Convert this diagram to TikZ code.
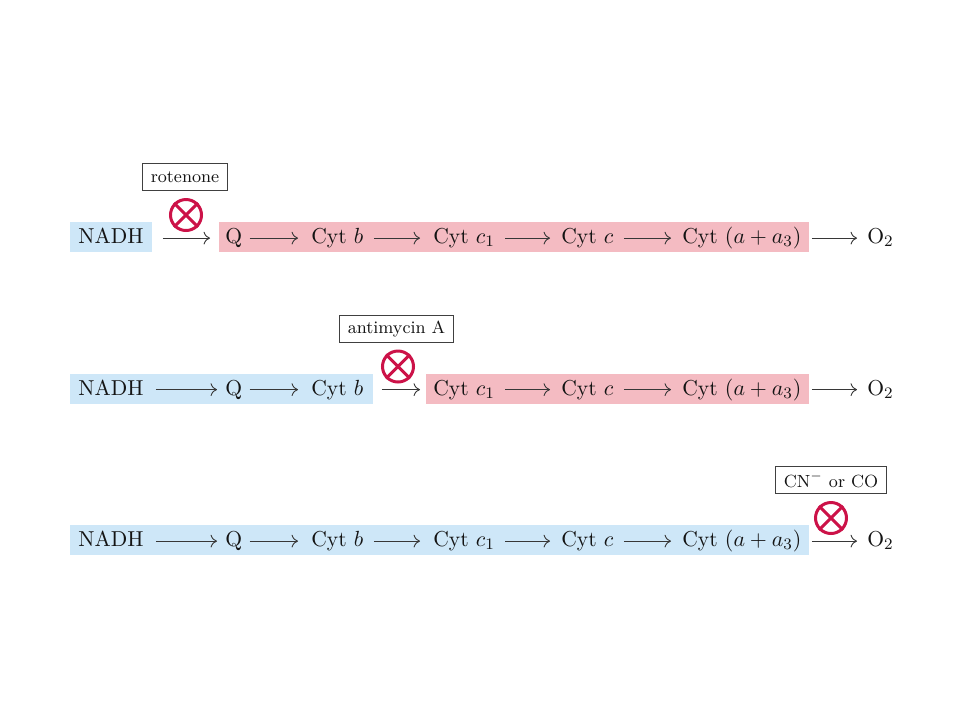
\documentclass[tikz,border=0pt]{standalone}
\usetikzlibrary{arrows.meta}
\definecolor{bluebg}{RGB}{206,231,248}
\definecolor{pinkbg}{RGB}{244,187,194}
\definecolor{blockred}{RGB}{204,18,72}
\definecolor{txt}{RGB}{20,20,20}
\pgfdeclarelayer{background}
\pgfsetlayers{background,main}
\begin{document}
\begin{tikzpicture}[x=0.5pt,y=-0.5pt,
  sp/.style={font=\fontsize{10.8}{13}\selectfont, text=txt, inner sep=0pt, anchor=base west, text height=5.4pt, text depth=0pt},
  arr/.style={-{To[length=3.2pt,width=6.4pt]}, line width=0.45pt, draw=txt!85, shorten <=5pt, shorten >=5.5pt},
  inhib/.style={circle, draw=blockred, line width=1.5pt, minimum size=15.5pt, inner sep=0pt},
  xline/.style={draw=blockred, line width=1.5pt},
  tag/.style={draw=black!75, line width=0.5pt, font=\fontsize{8.8}{10}\selectfont, text=txt, inner xsep=4.3pt, minimum height=13.7pt, inner ysep=0pt},
  bluebox/.style={fill=bluebg},
  pinkbox/.style={fill=pinkbg}]
\useasboundingbox (0,0) rectangle (960,720);
\begin{pgfonlayer}{background}
\fill[white] (0,0) rectangle (960,720);
\end{pgfonlayer}

% ---------- row 1 ----------
\node[sp] (n1) at (78,243.5) {NADH};
\node[sp] (q1) at (225,243.5) {Q};
\node[sp] (b1) at (311,243.5) {Cyt $b$};
\node[sp] (ca1) at (433,243.5) {Cyt $c_1$};
\node[sp] (cc1) at (561,243.5) {Cyt $c$};
\node[sp] (aa1) at (682,243.5) {Cyt $(a + a_3)$};
\node[sp] (o1) at (867,243.5) {O$_2$};
\begin{pgfonlayer}{background}
\fill[bluebox] ([shift={(-4pt,-4.25pt)}]n1.base west) rectangle ([shift={(4pt,10.75pt)}]n1.base east);
\fill[pinkbox] ([shift={(-3pt,-4.25pt)}]q1.base west) rectangle ([shift={(3.5pt,10.75pt)}]aa1.base east);
\end{pgfonlayer}
\draw[arr, shorten <=9.5pt, shorten >=7.5pt] (n1) -- (q1);
\draw[arr, shorten <=3.5pt, shorten >=6.5pt] (q1) -- (b1);
\draw[arr, shorten <=5pt, shorten >=6.5pt] (b1) -- (ca1);
\draw[arr] (ca1) -- (cc1);
\draw[arr] (cc1) -- (aa1);
\draw[arr, shorten <=5pt, shorten >=5pt] (aa1) -- (o1);
\node[inhib] (x1) at (186,215) {};
\draw[xline] (x1.north west) -- (x1.south east) (x1.north east) -- (x1.south west);
\node[tag] (t1) at (185,177) {rotenone};

% ---------- row 2 ----------
\node[sp] (n2) at (78,395) {NADH};
\node[sp] (q2) at (225,395) {Q};
\node[sp] (b2) at (311,395) {Cyt $b$};
\node[sp] (ca2) at (433,395) {Cyt $c_1$};
\node[sp] (cc2) at (561,395) {Cyt $c$};
\node[sp] (aa2) at (682,395) {Cyt $(a + a_3)$};
\node[sp] (o2) at (867,395) {O$_2$};
\begin{pgfonlayer}{background}
\fill[bluebox] ([shift={(-4pt,-4.25pt)}]n2.base west) rectangle ([shift={(4.5pt,10.75pt)}]b2.base east);
\fill[pinkbox] ([shift={(-3.5pt,-4.25pt)}]ca2.base west) rectangle ([shift={(3.5pt,10.75pt)}]aa2.base east);
\end{pgfonlayer}
\draw[arr, shorten <=6pt, shorten >=4pt] (n2) -- (q2);
\draw[arr, shorten <=3.5pt, shorten >=6.5pt] (q2) -- (b2);
\draw[arr, shorten <=9pt, shorten >=6.5pt] (b2) -- (ca2);
\draw[arr] (ca2) -- (cc2);
\draw[arr] (cc2) -- (aa2);
\draw[arr, shorten <=5pt, shorten >=5pt] (aa2) -- (o2);
\node[inhib] (x2) at (398,366.5) {};
\draw[xline] (x2.north west) -- (x2.south east) (x2.north east) -- (x2.south west);
\node[tag] (t2) at (396.5,329) {antimycin A};

% ---------- row 3 ----------
\node[sp] (n3) at (78,546.5) {NADH};
\node[sp] (q3) at (225,546.5) {Q};
\node[sp] (b3) at (311,546.5) {Cyt $b$};
\node[sp] (ca3) at (433,546.5) {Cyt $c_1$};
\node[sp] (cc3) at (561,546.5) {Cyt $c$};
\node[sp] (aa3) at (682,546.5) {Cyt $(a + a_3)$};
\node[sp] (o3) at (867,546.5) {O$_2$};
\begin{pgfonlayer}{background}
\fill[bluebox] ([shift={(-4pt,-4.25pt)}]n3.base west) rectangle ([shift={(3.5pt,10.75pt)}]aa3.base east);
\end{pgfonlayer}
\draw[arr, shorten <=6pt, shorten >=4pt] (n3) -- (q3);
\draw[arr, shorten <=3.5pt, shorten >=6.5pt] (q3) -- (b3);
\draw[arr, shorten <=5pt, shorten >=6.5pt] (b3) -- (ca3);
\draw[arr] (ca3) -- (cc3);
\draw[arr] (cc3) -- (aa3);
\draw[arr, shorten <=5pt, shorten >=5pt] (aa3) -- (o3);
\node[inhib] (x3) at (831,518) {};
\draw[xline] (x3.north west) -- (x3.south east) (x3.north east) -- (x3.south west);
\node[tag] (t3) at (831,480) {CN$^{-}$ or CO};
\end{tikzpicture}
\end{document}
